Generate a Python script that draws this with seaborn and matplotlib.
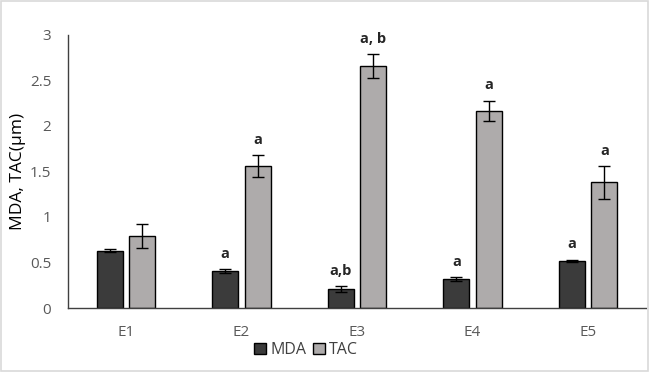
import pandas as pd
import numpy as np
import seaborn as sns
import matplotlib.pyplot as plt
from matplotlib.patches import Rectangle

# Values
groups = ['E1', 'E2', 'E3', 'E4', 'E5']
mda = [0.63, 0.41, 0.21, 0.32, 0.52]
tac = [0.79, 1.56, 2.66, 2.17, 1.38]
mda_err = [0.02, 0.02, 0.03, 0.02, 0.01]
tac_err = [0.13, 0.12, 0.13, 0.11, 0.18]
mda_marks = ['', 'a', 'a,b', 'a', 'a']
tac_marks = ['', 'a', 'a, b', 'a', 'a']

df = pd.DataFrame({
    'group': groups * 2,
    'value': mda + tac,
    'series': ['MDA'] * 5 + ['TAC'] * 5,
})

sns.set_style('white')
plt.rcParams['font.family'] = ['Open Sans', 'DejaVu Sans']

fig = plt.figure(figsize=(6.49, 3.72), dpi=100)
ax = fig.add_axes([68 / 649, 64 / 372, 578 / 649, 273 / 372])

sns.barplot(data=df, x='group', y='value', hue='series',
            palette={'MDA': '#3b3b3b', 'TAC': '#aeabab'},
            edgecolor='black', linewidth=1.0, width=0.56, gap=0.2, ax=ax)

errs = [mda_err, tac_err]
marks = [mda_marks, tac_marks]
for cont, err, mk in zip(ax.containers, errs, marks):
    xs = [b.get_x() + b.get_width() / 2 for b in cont]
    hs = [b.get_height() for b in cont]
    ax.errorbar(xs, hs, yerr=err, fmt='none', ecolor='black',
                elinewidth=1.0, capsize=4, capthick=1.0)
    for x, h, e, m in zip(xs, hs, err, mk):
        if m:
            ax.annotate(m, (x, h + e), xytext=(0, 6), textcoords='offset points',
                        ha='center', va='bottom', fontsize=10.5, fontweight='bold')

ax.set_ylim(0, 3)
ax.set_yticks([0, 0.5, 1, 1.5, 2, 2.5, 3])
ax.set_yticklabels(['0', '0.5', '1', '1.5', '2', '2.5', '3'])
ax.set_xlim(-0.5, 4.5)
ax.set_xlabel('')
ax.set_ylabel('MDA, TAC(µm)', fontsize=12.5, color='black')
ax.yaxis.set_label_coords(-0.072, 0.5)
ax.tick_params(axis='both', length=0, labelsize=11, colors='#595959')
ax.tick_params(axis='y', pad=12)
ax.tick_params(axis='x', pad=12)
for s in ['top', 'right']:
    ax.spines[s].set_visible(False)
for s in ['left', 'bottom']:
    ax.spines[s].set_color('#404040')
    ax.spines[s].set_linewidth(1.0)

leg = ax.legend(loc='upper center', bbox_to_anchor=(0.412, -0.09), ncol=2,
                frameon=False, fontsize=11.5, handlelength=0.75, handleheight=0.75,
                handletextpad=0.25, columnspacing=0.4, borderpad=0.1)
for t in leg.get_texts():
    t.set_color('#404040')

# light frame around the whole picture
fig.patches.append(Rectangle((0.001, 0.002), 0.997, 0.995, transform=fig.transFigure,
                             fill=False, edgecolor='#d9d9d9', linewidth=1.2))

fig.savefig('out.png', dpi=100)
